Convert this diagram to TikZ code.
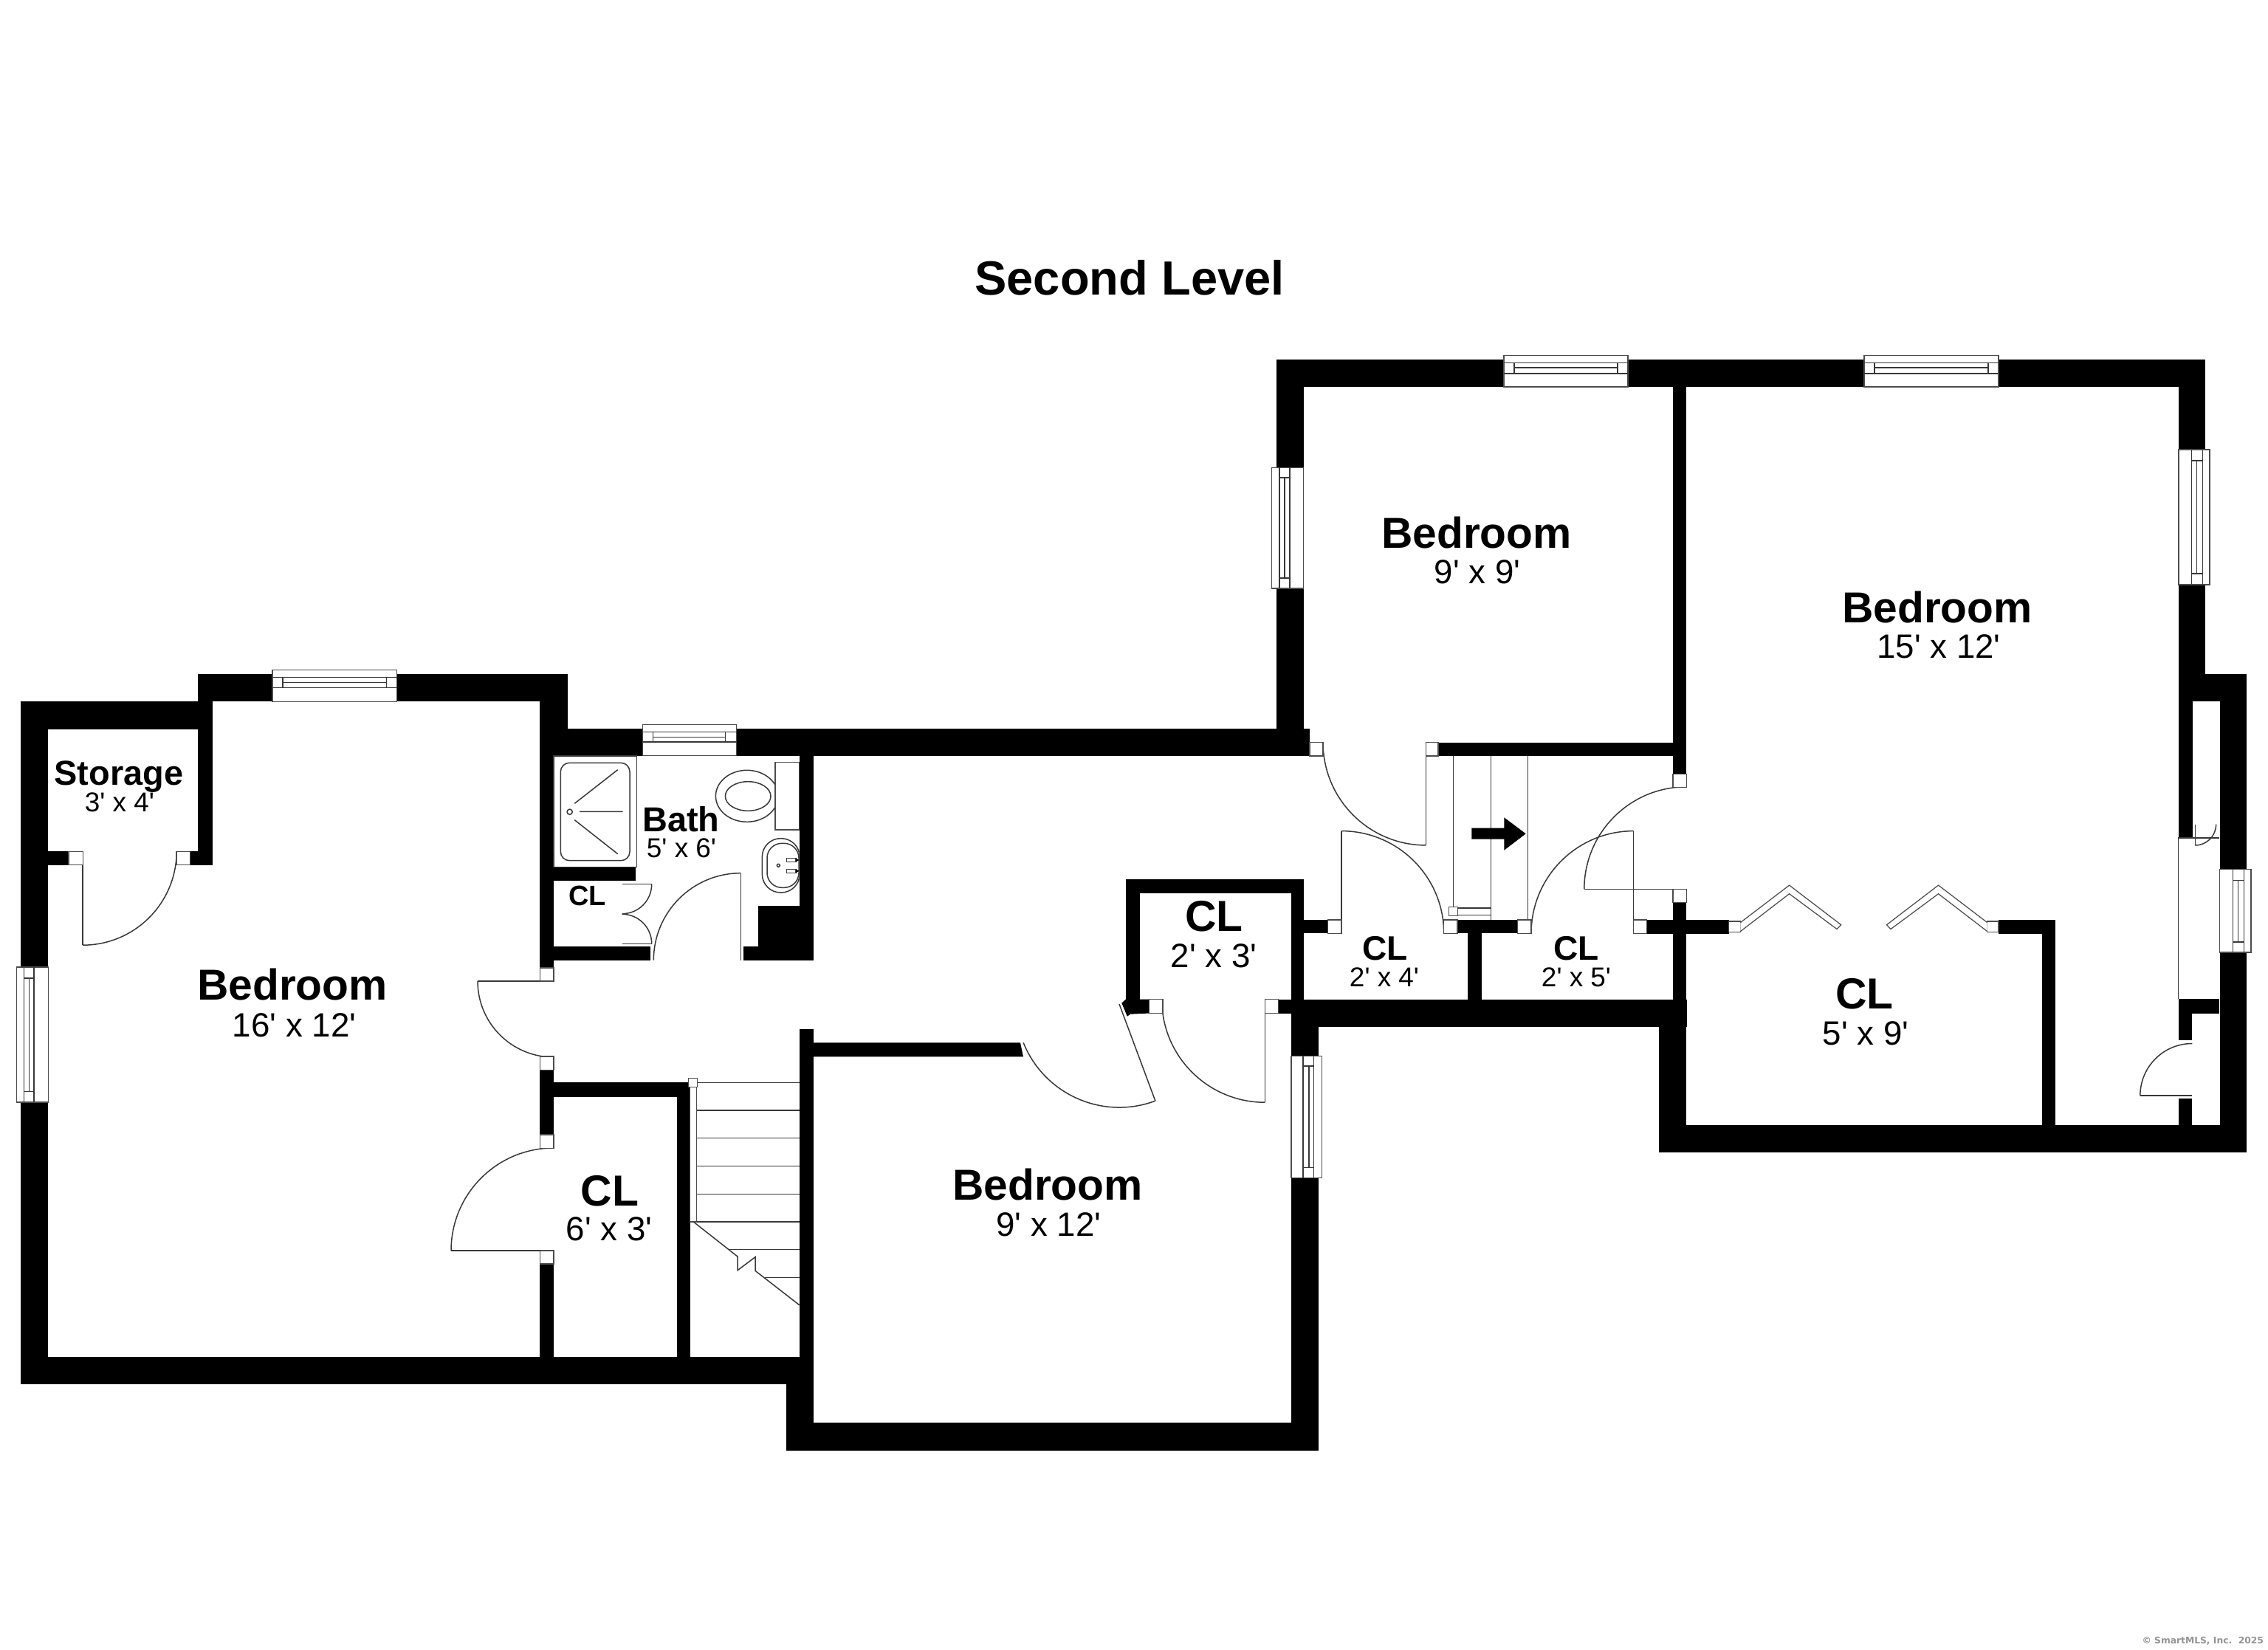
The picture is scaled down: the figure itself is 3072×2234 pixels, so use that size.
\documentclass[tikz,border=0pt]{standalone}
\usepackage{fontspec}
\newfontfamily\lib{Liberation Sans}
\newfontfamily\dej{DejaVu Sans}
\newcommand{\fsz}[1]{\fontsize{#1pt}{#1pt}\selectfont}
\tikzset{
  wallfill/.style={fill=black},
  fine/.style={draw=black!78,line width=0.85pt,line join=miter},
  jamb/.style={fill=white,draw=black!70,line width=0.7pt},
  pane/.style={fill=white,draw=black!70,line width=0.8pt},
  lab/.style={anchor=base,inner sep=0pt,outer sep=0pt,text=black},
  roomname/.style={lab,font=\lib\bfseries\fsz{33.4}},
  roomdim/.style={lab,font=\lib\fsz{26}},
  midname/.style={lab,font=\lib\bfseries\fsz{33.5}},
  smallname/.style={lab,font=\lib\bfseries\fsz{26.7}},
  closetname/.style={lab,font=\lib\bfseries\fsz{26.2}},
  smalldim/.style={lab,font=\lib\fsz{21}},
  tinyname/.style={lab,font=\lib\bfseries\fsz{21.6}},
  titletext/.style={lab,font=\lib\bfseries\fsz{37}},
  credit/.style={anchor=base east,inner sep=0pt,outer sep=0pt,text=black!42,font=\dej\bfseries\fsz{7}},
}
\newcommand{\wall}[4]{\fill[wallfill] (#1,#2) rectangle (#3,#4);}
\newcommand{\jam}[4]{\draw[jamb] (#1,#2) rectangle (#3,#4);}
% door: centre x, centre y, start angle, end angle, radius (px), leaf end x, leaf end y
\newcommand{\door}[7]{\draw[fine] (#1,#2) ++(#3:#5*0.02cm) arc[start angle=#3,end angle=#4,radius=#5*0.02cm];
  \draw[fine] (#1,#2) -- (#6,#7);}
% horizontal window: x1 x2 ytop yl1 ymid yl2 ybot xi1 xi2
\newcommand{\hwin}[9]{\draw[pane] (#1,#3) rectangle (#2,#7);
  \draw[fine] (#1,#4) -- (#2,#4) (#1,#6) -- (#2,#6) (#8,#5) -- (#9,#5) (#8,#4) -- (#8,#6) (#9,#4) -- (#9,#6);}
% vertical window: x1 x2 ytop ybot xl1 xmid xl2 yi1 yi2
\newcommand{\vwin}[9]{\draw[pane] (#1,#3) rectangle (#2,#4);
  \draw[fine] (#5,#3) -- (#5,#4) (#7,#3) -- (#7,#4) (#6,#8) -- (#6,#9) (#5,#8) -- (#7,#8) (#5,#9) -- (#7,#9);}
\begin{document}
\begin{tikzpicture}[x=0.02cm,y=-0.02cm]
\useasboundingbox[fill=white] (0,0) rectangle (3072,2234);

%% ---- walls ----
\wall{28}{950.4}{65.3}{1875.3}
\wall{28}{950.4}{287.5}{987.6}
\wall{268.4}{913.2}{768.6}{950.4}
\wall{268.4}{913.2}{287.5}{1171.8}
\wall{65.3}{1153.2}{93}{1171.8}
\wall{257.4}{1153.2}{287.5}{1171.8}
\wall{731.2}{913.2}{768.6}{1024.7}
\wall{731.2}{1024}{750}{1311}
\wall{731.2}{987}{1774}{1024}
\wall{731.2}{1431}{750}{1537}
\wall{731.2}{1694}{750}{1838}
\wall{750}{1466}{935}{1485.7}
\wall{916.8}{1466}{935}{1838}
\wall{28}{1838}{1102}{1875.3}
\wall{1082.7}{1394.3}{1102}{1965}
\wall{1065}{1875}{1102}{1965}
\wall{1065}{1927.4}{1785.5}{1965}
\wall{1749}{1190.6}{1765.6}{1390}
\wall{1749}{1353.5}{1785.5}{1965}
\fill[wallfill] (1102,1412.4) -- (1382,1412.4) -- (1386,1431.4) -- (1102,1431.4) -- cycle;
\wall{750}{1174.3}{861.3}{1193.3}
\wall{750}{1282.3}{881}{1300.7}
\wall{1082.7}{1024}{1102}{1300.7}
\wall{1027.3}{1226.7}{1102}{1300.7}
\wall{1006.7}{1282.3}{1102}{1300.7}
\wall{1525}{1190.6}{1765.6}{1209.6}
\wall{1525}{1190.6}{1544}{1353.5}
\fill[wallfill] (1519.3,1358.6) -- (1525,1353.5) -- (1556.6,1353.5) -- (1556.6,1372.5) -- (1531,1373.7) -- (1526.8,1376.7) -- cycle;
\wall{1731.6}{1353.5}{1749}{1372.5}
\wall{1765.6}{1246}{1798.8}{1264.3}
\wall{1749}{1353.5}{2284.5}{1390.5}
\wall{1974}{1246}{2055.7}{1264.3}
\wall{1987.7}{1264}{2006.7}{1353.5}
\wall{1948}{1005.5}{2284}{1024}
\wall{1729}{487}{1765.6}{1024}
\wall{1729}{487}{2987}{524.3}
\wall{2266}{524}{2284.4}{1048.3}
\wall{2266}{1222.7}{2284.4}{1560.7}
\wall{2247.3}{1354}{2284.4}{1560.7}
\wall{2230.6}{1246}{2341.8}{1264.7}
\wall{2707}{1246}{2784}{1264.7}
\wall{2765.6}{1246}{2784}{1523.7}
\wall{2247.3}{1523.7}{3043}{1560.7}
\wall{3006.5}{913.2}{3043}{1560.7}
\wall{2951}{487}{2987}{950.4}
\wall{2951}{913.2}{3043}{950.4}
\wall{2951}{913.2}{2969.7}{1135}
\wall{2950.7}{1353.3}{3006}{1372.7}
\wall{2950.7}{1372.7}{2969.3}{1409.3}
\wall{2950.7}{1488.3}{2969.3}{1523.7}

%% ---- stair, upper (with arrow) ----
\draw[fine] (1968.3,1024) -- (1968.3,1228.3) (2019.3,1024) -- (2019.3,1246) (2069.7,1024) -- (2069.7,1246);
\draw[fine] (1974.3,1230) rectangle (2019.3,1239.3);
\draw[jamb] (1962.3,1228.3) rectangle (1974.3,1240.3);
\fill[black] (1993.3,1121.7) -- (2037.3,1121.7) -- (2037.3,1107.3) -- (2066.7,1129.3) -- (2037.3,1151.7) -- (2037.3,1136.7) -- (1993.3,1136.7) -- cycle;

%% ---- stair, lower ----
\draw[fine] (944.7,1466.3) -- (1082.7,1466.3);
\draw[fine] (943.3,1504) -- (1082.7,1504) (943.3,1541.7) -- (1082.7,1541.7) (943.3,1579.3) -- (1082.7,1579.3) (943.3,1617.3) -- (1082.7,1617.3) (934.3,1655) -- (1082.7,1655);
\draw[fine] (988.3,1692.7) -- (1082.7,1692.7) (1036,1730.7) -- (1082.7,1730.7);
\draw[fine] (939.3,1655) -- (999,1702) -- (999,1720.7) -- (1023,1702.7) -- (1023,1721.3) -- (1082.7,1767.7);
\draw[jamb] (934.3,1472.3) rectangle (943.3,1655);
\draw[jamb] (932.7,1460.3) rectangle (944.7,1472.3);

%% ---- doors ----
\door{112.2}{1153.2}{270}{360}{127}{112.2}{1280.4}
\door{750}{1329}{180}{270}{103}{647}{1329}
\door{750}{1694}{90}{180}{139}{611}{1694}
\door{1003.3}{1300.7}{90}{180}{118}{1003.3}{1182.7}
\door{1931.4}{1005.5}{180}{270}{139.4}{1931.4}{1145}
\door{1817}{1264.3}{90}{0}{138.7}{1817}{1125.6}
\door{2212.7}{1264.3}{90}{180}{138.7}{2212.7}{1125.6}
\door{2284.3}{1204.3}{90}{180}{138.5}{2145.8}{1204.3}
\door{1713.3}{1353.5}{270}{180}{139.7}{1713.3}{1493.2}
\door{1516}{1360}{202}{290.4}{140}{1564.8}{1491}
\door{2973.3}{1116.7}{0}{-90}{28.3}{2973.3}{1145}
\door{2969.3}{1484}{90}{180}{70.5}{2898.8}{1484}
% bath closet bifold
\door{842.7}{1197.7}{0}{-90}{40}{882.7}{1197.7}
\door{842.7}{1278.3}{0}{90}{40}{882.7}{1278.3}

%% ---- door jambs ----
\jam{93}{1153.2}{112.2}{1171.8}
\jam{239}{1153.2}{257.4}{1171.8}
\jam{731.2}{1311}{750}{1329}
\jam{731.2}{1431}{750}{1449.8}
\jam{731.2}{1537}{750}{1555.8}
\jam{731.2}{1694}{750}{1712}
\jam{1556.6}{1353.5}{1575}{1372.5}
\jam{1713.3}{1353.5}{1731.6}{1372.5}
\jam{1798.8}{1246}{1817}{1264.3}
\jam{1955.7}{1246}{1974}{1264.3}
\jam{2055.7}{1246}{2074}{1264.3}
\jam{2212.5}{1246}{2230.6}{1264.3}
\jam{1774}{1005.5}{1792}{1024}
\jam{1931.4}{1005.5}{1948}{1024}
\jam{2266}{1048.3}{2284.4}{1066.3}
\jam{2266}{1204.3}{2284.4}{1222.7}
\jam{2341.8}{1248}{2357.4}{1262.5}
\jam{2691.7}{1248}{2707}{1262.5}

%% ---- bifold doors ----
\draw[jamb] (2357.4,1249.6) -- (2423.6,1199.1) -- (2493.7,1252.7) -- (2488,1258.5) -- (2423.6,1210.7) -- (2357.4,1261.6);
\draw[jamb] (2691.7,1249.6) -- (2625.5,1199.1) -- (2555.4,1252.7) -- (2561,1258.5) -- (2625.5,1210.7) -- (2691.7,1261.6);

%% ---- narrow closet, right ----
\draw[fine] (2950.7,1353.3) -- (2950.7,1135) -- (3006,1135);

%% ---- windows ----
\hwin{369}{537.6}{907.3}{917.6}{924.3}{931.4}{950.4}{383}{523.6}
\hwin{870.7}{997.7}{981.3}{991.7}{998.3}{1005}{1023.3}{884.7}{982.7}
\hwin{2036.8}{2204.8}{481.4}{491.4}{498.2}{506}{524}{2050.8}{2190.8}
\hwin{2525}{2707}{481.4}{491.4}{498.2}{506}{524}{2539}{2693}
\vwin{22.7}{65.3}{1310}{1493}{32.3}{39.6}{46.2}{1324.8}{1478.5}
\vwin{1722.7}{1765.6}{633.2}{797}{1733}{1740}{1747}{647}{783}
\vwin{2951}{2993}{609}{791.8}{2968.6}{2975.6}{2983.5}{624}{776.8}
\vwin{1749}{1790.5}{1430.5}{1595.5}{1764.8}{1773}{1779.7}{1444}{1581.6}
\vwin{3006.7}{3049}{1177.7}{1290}{3024.3}{3031.7}{3039.3}{1192.7}{1276}

%% ---- bathroom fixtures ----
\draw[fine] (750,1024) rectangle (862.3,1174.3);
\draw[fine,rounded corners=12*0.02cm] (759.3,1033.3) rectangle (853,1165.7);
\draw[fine] (771.7,1099.7) circle[radius=3.6*0.02cm];
\draw[fine] (785,1099.3) -- (843.7,1099.3) (778.3,1088.3) -- (836.7,1042.7) (778.3,1110.7) -- (836.7,1156.7);
\draw[fine] (1011.7,1078.3) ellipse[x radius=42.3*0.02cm,y radius=35*0.02cm];
\draw[fine] (1013.2,1078.5) ellipse[x radius=30.8*0.02cm,y radius=19.8*0.02cm];
\draw[pane] (1050,1032.7) rectangle (1082.7,1124);
\begin{scope}
  \clip (1020,1130) rectangle (1082.7,1215);
  \draw[fine,rounded corners=25*0.02cm] (1032.3,1135.7) rectangle (1083.2,1209);
  \draw[fine,rounded corners=20*0.02cm] (1039,1142.3) rectangle (1082,1202.3);
\end{scope}
\draw[fine] (1054.3,1172.3) circle[radius=2*0.02cm];
\draw[fine] (1065.3,1162.7) rectangle (1078,1167.3) (1065.3,1177.3) rectangle (1078,1182.3);
\fill[black] (1078,1162.7) -- (1082.7,1165) -- (1078,1167.3) -- cycle (1078,1177.3) -- (1082.7,1179.8) -- (1078,1182.3) -- cycle;

%% ---- labels ----
\node[titletext] (title) at (1530,399.6) {Second Level};
\node[smallname] (storageN) at (161,1063) {Storage};
\node[smalldim] (storageD) at (162,1099.5) {3' x 4'};
\node[roomname] (bed1N) at (396,1354.5) {Bedroom};
\node[roomdim] (bed1D) at (398.6,1404) {16' x 12'};
\node[smallname] (bathN) at (922.5,1126) {Bath};
\node[smalldim] (bathD) at (923,1161) {5' x 6'};
\node[tinyname] (clBath) at (795.7,1226.5) {CL};
\node[midname] (cl6N) at (826,1633.4) {CL};
\node[roomdim] (cl6D) at (825,1680) {6' x 3'};
\node[roomname] (bed2N) at (1419,1625.7) {Bedroom};
\node[roomdim] (bed2D) at (1420.5,1674) {9' x 12'};
\node[midname] (cl2N) at (1644.6,1261.4) {CL};
\node[roomdim] (cl2D) at (1644,1310) {2' x 3'};
\node[closetname] (cl24N) at (1876,1300) {CL};
\node[smalldim] (cl24D) at (1875,1336.7) {2' x 4'};
\node[closetname] (cl25N) at (2135,1300) {CL};
\node[smalldim] (cl25D) at (2135,1336.7) {2' x 5'};
\node[roomname] (bed3N) at (2000,742.9) {Bedroom};
\node[roomdim] (bed3D) at (2001,790.7) {9' x 9'};
\node[roomname] (bed4N) at (2624,843.6) {Bedroom};
\node[roomdim] (bed4D) at (2626,891.8) {15' x 12'};
\node[midname] (cl59N) at (2525.4,1366.5) {CL};
\node[roomdim] (cl59D) at (2527,1415.6) {5' x 9'};
\node[credit] (copyright) at (3066,2226.7) {© SmartMLS, Inc.\ \ 2025};
\end{tikzpicture}
\end{document}
